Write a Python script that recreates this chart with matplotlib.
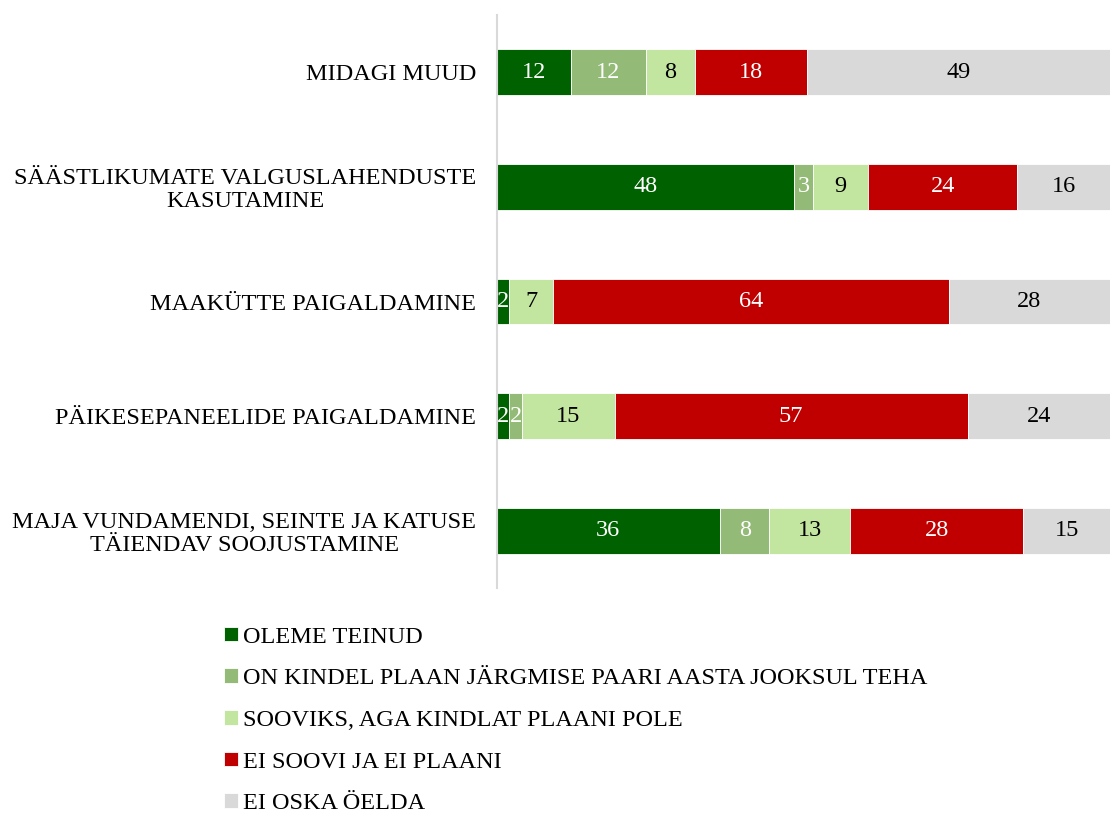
import numpy as np
import matplotlib
matplotlib.use("Agg")
from matplotlib import pyplot as plt

plt.rcParams['font.family'] = ['Liberation Serif', 'DejaVu Serif']

# categories, top to bottom
categories = ["MIDAGI MUUD",
              "SÄÄSTLIKUMATE VALGUSLAHENDUSTE\nKASUTAMINE",
              "MAAKÜTTE PAIGALDAMINE",
              "PÄIKESEPANEELIDE PAIGALDAMINE",
              "MAJA VUNDAMENDI, SEINTE JA KATUSE\nTÄIENDAV SOOJUSTAMINE"]

series_names = ["OLEME TEINUD",
                "ON KINDEL PLAAN JÄRGMISE PAARI AASTA JOOKSUL TEHA",
                "SOOVIKS, AGA KINDLAT PLAANI POLE",
                "EI SOOVI JA EI PLAANI",
                "EI OSKA ÖELDA"]

oleme_teinud = [12, 48, 2, 2, 36]
kindel_plaan = [12, 3, 0, 2, 8]
sooviks = [8, 9, 7, 15, 13]
ei_soovi = [18, 24, 64, 57, 28]
ei_oska = [49, 16, 28, 24, 15]

values = [oleme_teinud, kindel_plaan, sooviks, ei_soovi, ei_oska]
colors = ["#006100", "#93BA76", "#C2E6A0", "#C00000", "#D9D9D9"]
text_colors = ["white", "white", "black", "white", "black"]

fig = plt.figure(figsize=(11.11, 8.14), dpi=100)
ax = fig.add_axes([0.4473, 0.2776, 0.5518, 0.704])

y = np.arange(len(categories))
left = np.zeros(len(categories))
for vals, name, col, tcol in zip(values, series_names, colors, text_colors):
    vals = np.array(vals, dtype=float)
    bars = ax.barh(y, vals, left=left, height=0.4, color=col, label=name,
                   edgecolor='white', linewidth=0.6)
    labels = [str(int(v)) if v > 0 else "" for v in vals]
    ax.bar_label(bars, labels=labels, label_type='center', color=tcol, fontsize=17.5)
    left += vals

ax.set_xlim(0, 99)
ax.set_ylim(len(categories) - 0.5, -0.5)
ax.set_yticks(y)
ax.set_yticklabels(categories, fontsize=17.5, multialignment='center', linespacing=1.1)
ax.tick_params(axis='y', length=0, pad=15)
ax.set_xticks([])
for s in ['top', 'right', 'bottom']:
    ax.spines[s].set_visible(False)
ax.spines['left'].set_color('#D9D9D9')
ax.spines['left'].set_linewidth(1.5)

fig.legend(loc='upper left', bbox_to_anchor=(0.193, 0.242), frameon=False,
           fontsize=17.5, handlelength=0.55, handleheight=0.55, handletextpad=0.22,
           labelspacing=0.85, borderaxespad=0)

fig.savefig("out.png", dpi=100)
